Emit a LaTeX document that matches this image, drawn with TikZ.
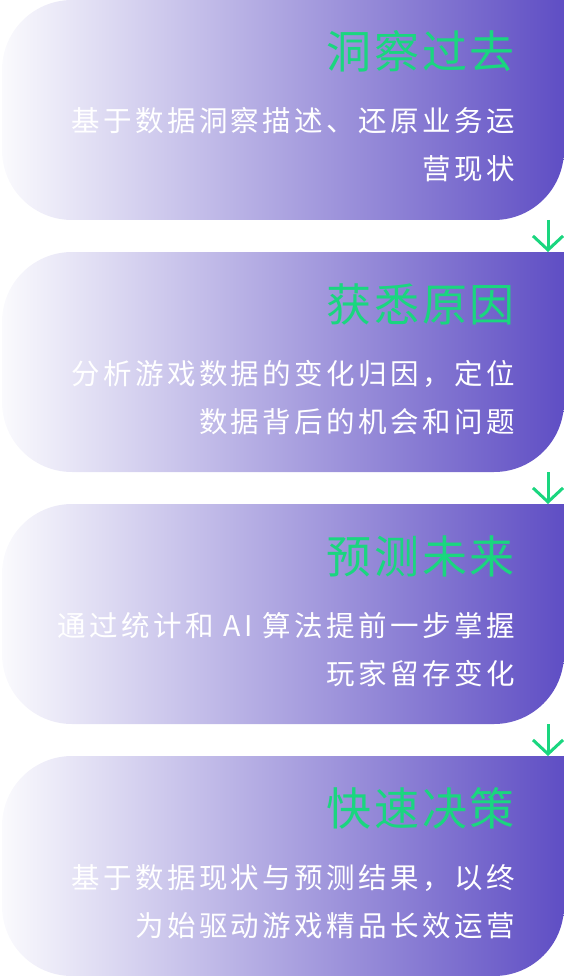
\documentclass[tikz,border=0pt]{standalone}
\usepackage{fontspec}
\setmainfont{Noto Sans CJK SC}
\newfontfamily\titlefont[LetterSpace=6]{Noto Sans CJK SC}
\newfontfamily\bodyfont[LetterSpace=12]{Noto Sans CJK SC}
\usetikzlibrary{arrows.meta}

\definecolor{cardleft}{RGB}{250,250,253}
\definecolor{cardright}{RGB}{95,78,196}
\definecolor{titlegreen}{RGB}{26,214,127}

\begin{document}
\begin{tikzpicture}[
        x=1pt,
        y=-1pt,
        card/.style={left color=cardleft, right color=cardright, rounded corners=70pt},
        title/.style={anchor=base east, inner sep=0pt, text=titlegreen, font=\titlefont\fontsize{45}{45}\selectfont},
        body/.style={anchor=base east, inner sep=0pt, text=white, font=\bodyfont\fontsize{28.5}{28.5}\selectfont},
        flow/.style={draw=titlegreen, line width=3pt, -{Straight Barb[length=14pt,width=30pt]}}
    ]
        \useasboundingbox (0,0) rectangle (564,976);

        % four cards, top-right corner left sharp
        \foreach \i/\t/\ttl/\la/\lb in {
            1/0/{洞察过去}/{基于数据洞察描述、还原业务运}/{营现状},
            2/252/{获悉原因}/{分析游戏数据的变化归因，定位}/{数据背后的机会和问题},
            3/504/{预测未来}/{通过统计和 AI 算法提前一步掌握}/{玩家留存变化},
            4/756/{快速决策}/{基于数据现状与预测结果，以终}/{为始驱动游戏精品长效运营}}{
            \shade[card] (564,\t) -- (564,\t+220) -- (2,\t+220) -- (2,\t) -- (564,\t);
            \node[title] (ttl\i) at (515,\t+69) {\ttl};
            \node[body] (lna\i) at (515,\t+132) {\la};
            \node[body] (lnb\i) at (515,\t+180) {\lb};
            \coordinate (top\i) at (548,\t);
            \coordinate (bot\i) at (548,\t+220);
        }

        \draw[flow] (bot1) -- (top2);
        \draw[flow] (bot2) -- (top3);
        \draw[flow] (bot3) -- (top4);
    \end{tikzpicture}
\end{document}
